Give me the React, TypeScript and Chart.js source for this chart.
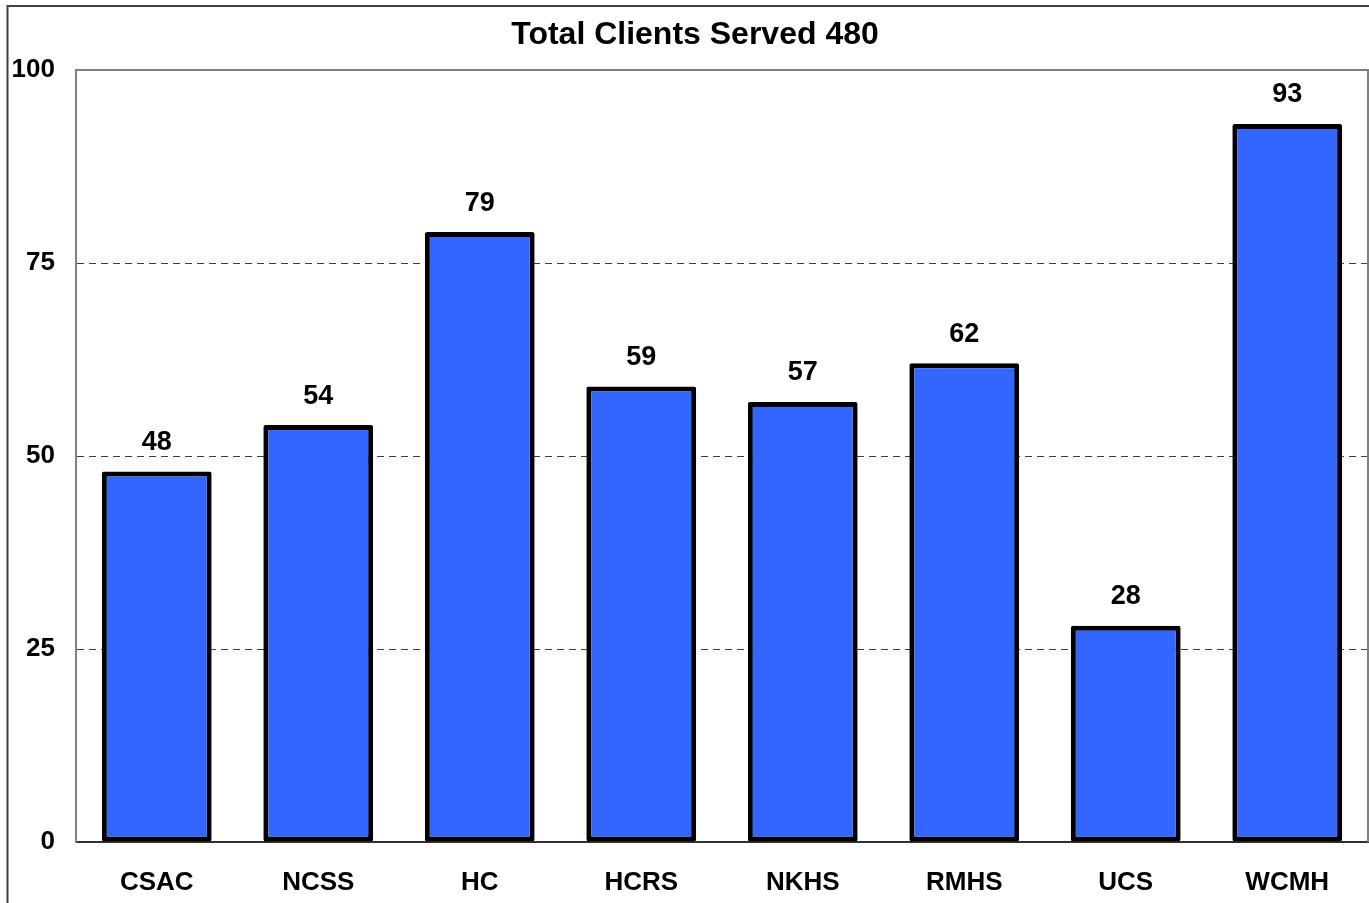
import React, { useEffect, useRef } from "react";
import { Chart, registerables } from "chart.js";

Chart.register(...registerables);

const categories = ["CSAC", "NCSS", "HC", "HCRS", "NKHS", "RMHS", "UCS", "WCMH"];
const clients = [48, 54, 79, 59, 57, 62, 28, 93];
const yTicks = [0, 25, 50, 75, 100];
const titleText = "Total Clients Served 480";

const FONT = "Arial, 'Liberation Sans', sans-serif";

const decorPlugin = {
  id: "decor",
  beforeDraw(chart: any) {
    const { ctx, width, height } = chart;
    ctx.save();
    ctx.fillStyle = "#ffffff";
    ctx.fillRect(0, 0, width, height);
    ctx.restore();
  },
  afterDraw(chart: any) {
    const { ctx, chartArea } = chart;
    ctx.save();
    // outer frame
    ctx.strokeStyle = "#404040";
    ctx.lineWidth = 2;
    ctx.beginPath();
    ctx.moveTo(7.5, 905);
    ctx.lineTo(7.5, 6);
    ctx.lineTo(1375, 6);
    ctx.stroke();
    // plot frame top & right
    ctx.strokeStyle = "#808080";
    ctx.lineWidth = 2;
    ctx.beginPath();
    ctx.moveTo(chartArea.left, chartArea.top);
    ctx.lineTo(chartArea.right, chartArea.top);
    ctx.lineTo(chartArea.right, chartArea.bottom);
    ctx.stroke();
    // title
    ctx.fillStyle = "#000000";
    ctx.font = `bold 32px ${FONT}`;
    ctx.textAlign = "center";
    ctx.textBaseline = "alphabetic";
    ctx.fillText(titleText, 695, 44);
    ctx.restore();
  },
  afterDatasetsDraw(chart: any) {
    const { ctx } = chart;
    const meta = chart.getDatasetMeta(0);
    ctx.save();
    ctx.fillStyle = "#000000";
    ctx.font = `bold 27px ${FONT}`;
    ctx.textAlign = "center";
    ctx.textBaseline = "middle";
    meta.data.forEach((el: any, i: number) => {
      ctx.fillText(String(clients[i]), el.x, el.y - 29);
    });
    ctx.restore();
  },
};

export default function App() {
  const ref = useRef<HTMLCanvasElement>(null);
  useEffect(() => {
    if (!ref.current) return;
    const chart = new Chart(ref.current, {
      type: "bar",
      data: {
        labels: categories,
        datasets: [
          {
            data: clients,
            backgroundColor: "#3366FF",
            borderColor: "#000000",
            borderWidth: 5,
            borderSkipped: false,
            borderRadius: 2,
            barPercentage: 0.68,
            categoryPercentage: 1,
          },
        ],
      },
      options: {
        responsive: false,
        animation: false,
        layout: { padding: { left: 0, top: 70, right: 1, bottom: 0 } },
        plugins: {
          legend: { display: false },
          title: { display: false },
          tooltip: { enabled: false },
        },
        scales: {
          x: {
            afterFit: (s: any) => {
              s.height = 61;
            },
            grid: { display: false, drawTicks: false },
            border: { display: true, color: "#303030", width: 2 },
            ticks: {
              color: "#000000",
              font: { family: FONT, size: 26, weight: "bold" },
              padding: 25,
              maxRotation: 0,
            },
          },
          y: {
            min: 0,
            max: 100,
            afterFit: (s: any) => {
              s.width = 76;
            },
            afterBuildTicks: (s: any) => {
              s.ticks = yTicks.map((v) => ({ value: v }));
            },
            grid: {
              drawTicks: false,
              lineWidth: 1,
              color: (c: any) =>
                c.tick && c.tick.value > 0 && c.tick.value < 100 ? "#404040" : "rgba(0,0,0,0)",
            },
            border: { display: true, color: "#808080", width: 2, dash: [7, 5] },
            ticks: {
              color: "#000000",
              font: { family: FONT, size: 26, weight: "bold" },
              padding: 21,
            },
          },
        },
      },
      plugins: [decorPlugin],
    });
    return () => chart.destroy();
  }, []);
  return (
    <div style={{ position: "absolute", left: 0, top: 0, width: 1369, height: 903, background: "#fff" }}>
      <canvas ref={ref} width={1369} height={903} style={{ display: "block" }} />
    </div>
  );
}
